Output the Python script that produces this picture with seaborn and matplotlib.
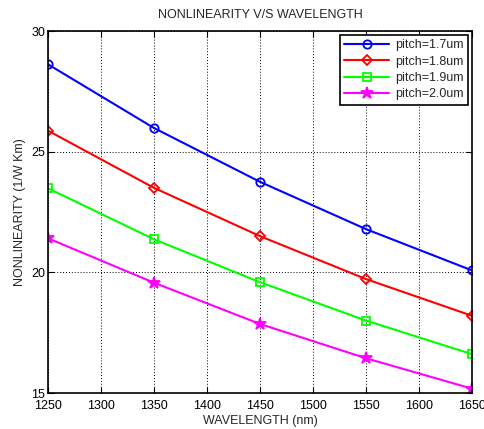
import matplotlib
matplotlib.use("Agg")
import matplotlib.pyplot as plt
import seaborn as sns

wavelength = [1250, 1350, 1450, 1550, 1650]
pitch_17 = [28.62, 25.98, 23.75, 21.79, 20.08]
pitch_18 = [25.87, 23.50, 21.50, 19.72, 18.20]
pitch_19 = [23.48, 21.37, 19.59, 18.00, 16.61]
pitch_20 = [21.41, 19.57, 17.86, 16.44, 15.18]
labels = ["pitch=1.7um", "pitch=1.8um", "pitch=1.9um", "pitch=2.0um"]
xticks = [1250, 1300, 1350, 1400, 1450, 1500, 1550, 1600, 1650]
yticks = [15, 20, 25, 30]

sns.set_style("white")
plt.rcParams['font.family'] = ['Liberation Sans', 'DejaVu Sans']

fig = plt.figure(figsize=(4.85, 4.29), dpi=100)
ax = fig.add_axes([48/485, 1-393/429, (472-48)/485, (393-31)/429])

series = [pitch_17, pitch_18, pitch_19, pitch_20]
colors = ["#0000ff", "#ff0000", "#00ff00", "#ff00ff"]
markers = ["o", "D", "s", "*"]
msizes = [6, 5, 6, 9]
fills = ["none", "none", "none", "#ff00ff"]
for vals, lab, c, m, ms, fc in zip(series, labels, colors, markers, msizes, fills):
    sns.lineplot(x=wavelength, y=vals, ax=ax, color=c, marker=m, markersize=ms,
                 markerfacecolor=fc, markeredgecolor=c, markeredgewidth=1.3,
                 linewidth=1.5, label=lab)

ax.set_xlim(1250, 1650)
ax.set_ylim(15, 30)
ax.set_xticks(xticks)
ax.set_yticks(yticks)
ax.grid(True, color="black", linestyle=(0, (1, 2)), linewidth=0.7)
ax.tick_params(axis="both", direction="in", length=4, labelsize=9, colors="black", width=0.8,
               top=True, right=True, bottom=True, left=True)
ax.tick_params(axis="x", pad=5)
ax.tick_params(axis="y", pad=2)
for s in ax.spines.values():
    s.set_color("black")
    s.set_linewidth(1.2)
ax.set_xlabel("WAVELENGTH (nm)", fontsize=9, labelpad=2)
ax.set_ylabel("NONLINEARITY (1/W Km)", fontsize=9, labelpad=4)
ax.set_title("NONLINEARITY V/S WAVELENGTH", fontsize=9, pad=9)

leg = ax.legend(loc="upper right", fontsize=9, frameon=True, fancybox=False,
                edgecolor="black", framealpha=1, borderpad=0.35, handlelength=3.6,
                labelspacing=0.35, borderaxespad=0.3, handletextpad=0.5)
leg.get_frame().set_linewidth(1.2)

fig.savefig("out.png", dpi=100)
